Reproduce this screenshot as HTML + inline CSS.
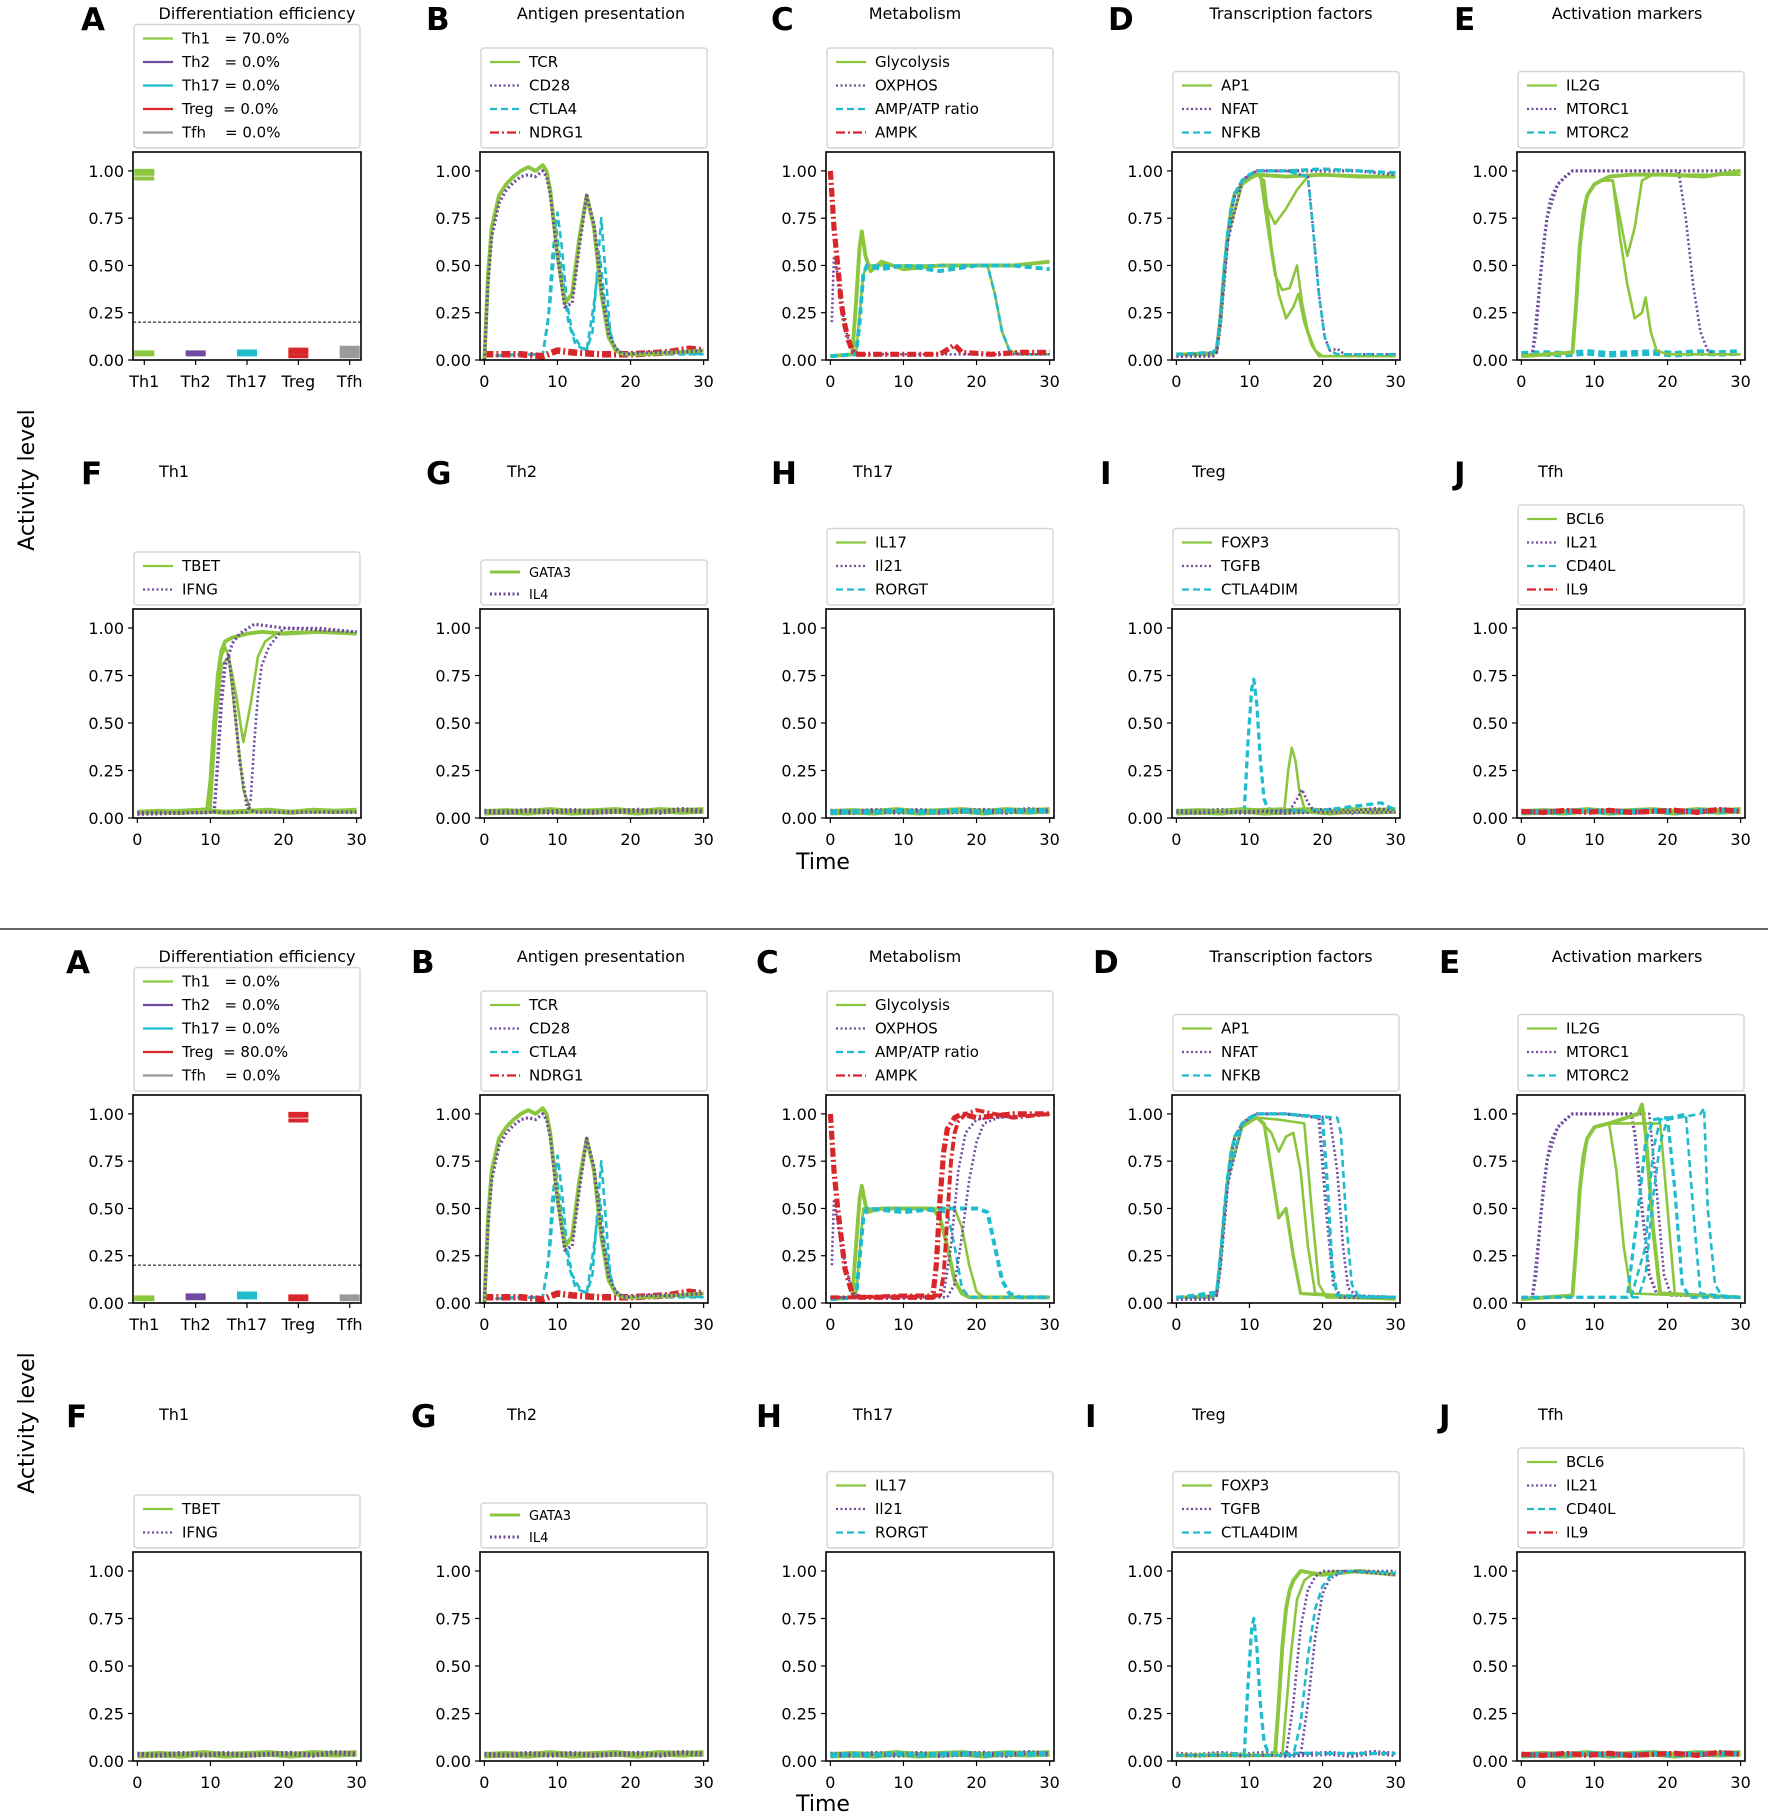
<!DOCTYPE html>
<html><head><meta charset="utf-8">
<style>
html,body{margin:0;padding:0;background:#fff;}
svg{display:block;font-family:"DejaVu Sans","Liberation Sans",sans-serif;}
</style></head>
<body>
<svg id="fig" width="1772" height="1817" viewBox="0 0 1772 1817" xmlns="http://www.w3.org/2000/svg">
<rect x="0" y="0" width="1772" height="1817" fill="#fff"/>
<line x1="0" y1="929" x2="1768" y2="929" stroke="#333" stroke-width="1.5"/>
<text x="0" y="0" transform="translate(34,480) rotate(-90)" text-anchor="middle" font-size="22">Activity level</text>
<text x="0" y="0" transform="translate(34,1423) rotate(-90)" text-anchor="middle" font-size="22">Activity level</text>
<text x="823" y="869" text-anchor="middle" font-size="22">Time</text>
<text x="823" y="1811" text-anchor="middle" font-size="22">Time</text>
</svg>
<script>
const NS='http://www.w3.org/2000/svg';
const svg=document.getElementById('fig');
const G='#8cc63f',P='#6f4a9e',C='#1fbccd',R='#d8262a',GR='#9a9a9a';
const DASH={s:'',d:'2,2.5',a:'7,4',x:'9,3,2,3'};

/* ---------- data ---------- */
const xTicks=[0,10,20,30];
const yTicks=[0,0.25,0.5,0.75,1.0];
const yTickLabels=['0.00','0.25','0.50','0.75','1.00'];
const cellCats=['Th1','Th2','Th17','Treg','Tfh'];
const effTop=[[0.96,0.985,1.0,0.03,0.04],[0.03,0.04],[0.03,0.045],[0.02,0.04,0.055],[0.02,0.035,0.05,0.065]];
const effBottom=[[0.02,0.03],[0.025,0.04],[0.03,0.05],[0.965,0.99,1.0,0.02,0.035],[0.02,0.035]];
const effLabelsTop=['Th1   = 70.0%','Th2   = 0.0%','Th17 = 0.0%','Treg  = 0.0%','Tfh    = 0.0%'];
const effLabelsBottom=['Th1   = 0.0%','Th2   = 0.0%','Th17 = 0.0%','Treg  = 80.0%','Tfh    = 0.0%'];
const effThreshold=0.2;

const baseT=[0,3,6,9,12,15,18,21,24,27,30];
const baseV1=[0.03,0.035,0.03,0.04,0.03,0.035,0.04,0.03,0.04,0.035,0.04];
const baseV2=[0.035,0.03,0.04,0.03,0.04,0.03,0.035,0.04,0.03,0.045,0.035];

const antigen=[
 {c:C,d:'a',t:[0,4,8,8.7,9.3,10,10.6,11.3,12,13,14,14.8,15.4,16,16.6,17.2,18,19,22,26,30],v:[0.02,0.03,0.03,0.2,0.55,0.78,0.6,0.3,0.15,0.08,0.05,0.15,0.45,0.75,0.45,0.15,0.05,0.03,0.03,0.04,0.03]},
 {c:C,d:'a',t:[0,8,9,9.8,10.5,11.5,12.5,14,15,15.8,16.5,17.5,19,30],v:[0.02,0.03,0.3,0.7,0.5,0.2,0.08,0.05,0.3,0.55,0.3,0.08,0.03,0.03]},
 {c:R,d:'x',w:5,t:[0,5,8,10,12,16,20,25,28,30],v:[0.03,0.03,0.02,0.05,0.04,0.03,0.03,0.04,0.06,0.05]},
 {c:G,d:'s',w:3,t:[0,0.5,1,2,3,4,5,6,7,8,8.5,9,10,11,12,13,14,15,16,17,18,19,22,26,30],v:[0,0.45,0.7,0.87,0.93,0.97,1.0,1.02,1.0,1.03,1.0,0.9,0.55,0.3,0.35,0.65,0.87,0.7,0.35,0.12,0.05,0.03,0.03,0.04,0.05]},
 {c:P,d:'d',w:2.5,t:[0,0.5,1,2,3,4,5,6,7,8,8.5,9,10,11,12,13,14,15,16,17,18,19,22,26,30],v:[0,0.4,0.65,0.83,0.9,0.94,0.97,0.98,0.97,1.0,0.97,0.88,0.55,0.28,0.3,0.6,0.87,0.72,0.38,0.14,0.06,0.03,0.04,0.04,0.05]}
];
const metabolismTop=[
 {c:G,d:'s',w:3,t:[0,3,3.5,4,4.3,4.8,5.5,7,10,15,20,25,30],v:[0.02,0.03,0.3,0.6,0.68,0.55,0.47,0.52,0.48,0.5,0.5,0.5,0.52]},
 {c:G,d:'s',t:[0,3.5,4.5,5,10,15,21.5,22.5,23.5,24.5,26,30],v:[0.02,0.03,0.45,0.5,0.5,0.5,0.5,0.35,0.15,0.05,0.03,0.03]},
 {c:C,d:'a',w:3,t:[0,3.5,4,4.5,5,7,10,15,20,25,30],v:[0.02,0.03,0.2,0.45,0.5,0.48,0.5,0.47,0.5,0.5,0.48]},
 {c:C,d:'a',t:[0,3.5,4.5,5,10,15,21.5,22.5,23.5,24.5,26,30],v:[0.02,0.03,0.45,0.5,0.5,0.5,0.5,0.35,0.15,0.05,0.03,0.03]},
 {c:P,d:'d',t:[0.2,0.5,1,1.5,2,2.5,3,4,30],v:[0.2,0.55,0.45,0.3,0.18,0.1,0.05,0.03,0.03]},
 {c:R,d:'x',w:4,t:[0,0.5,1,1.5,2,2.5,3,3.5,4,10,15,17,18,22,26,30],v:[1.0,0.7,0.5,0.3,0.18,0.1,0.05,0.03,0.03,0.03,0.03,0.08,0.04,0.03,0.04,0.04]}
];
const metabolismBottom=[
 {c:G,d:'s',w:3,t:[0,3,3.5,4,4.3,5,7,10,14,15,16,17,18,19,22,30],v:[0.02,0.03,0.3,0.55,0.62,0.48,0.5,0.5,0.5,0.45,0.3,0.12,0.05,0.03,0.03,0.03]},
 {c:G,d:'s',t:[0,3.5,4.5,5,10,17,18,19,20,21,30],v:[0.02,0.03,0.5,0.5,0.5,0.5,0.4,0.2,0.06,0.03,0.03]},
 {c:C,d:'a',w:3,t:[0,3.5,4.5,5,10,15,20,21.5,22.5,23.5,24.5,26,30],v:[0.02,0.03,0.45,0.5,0.48,0.5,0.5,0.48,0.3,0.12,0.05,0.03,0.03]},
 {c:C,d:'a',t:[0,3.5,4.5,5,10,16,17,18,19,30],v:[0.02,0.03,0.45,0.5,0.5,0.48,0.3,0.08,0.03,0.03]},
 {c:P,d:'d',t:[0.2,0.5,1.5,3,4,14,15.5,16.5,17.5,18.5,20,22,30],v:[0.2,0.55,0.3,0.05,0.03,0.03,0.05,0.3,0.7,0.9,0.97,0.98,1.0]},
 {c:P,d:'d',t:[0,4,16,17,18,19,20,21,23,30],v:[0.03,0.03,0.03,0.1,0.35,0.65,0.85,0.95,0.98,1.0]},
 {c:R,d:'x',w:4,t:[0,0.5,1,2,3,4,10,14,14.5,15,15.5,16,17,18,20,25,30],v:[1.0,0.7,0.5,0.18,0.05,0.03,0.03,0.03,0.2,0.55,0.8,0.92,0.98,1.0,0.98,1.0,1.0]},
 {c:R,d:'x',w:3,t:[0,4,10,15,15.5,16,16.5,17,17.5,18.5,20,25,30],v:[0.03,0.03,0.04,0.04,0.15,0.45,0.75,0.9,0.96,1.0,1.02,0.98,1.0]}
];
const transTop=[
 {c:G,d:'s',w:3,t:[0,5,5.5,6,6.5,7,7.5,8,9,10,11,15,20,25,30],v:[0.03,0.03,0.05,0.2,0.45,0.65,0.8,0.88,0.93,0.96,0.98,0.97,0.98,0.97,0.97]},
 {c:G,d:'s',t:[0,5.5,7,9,11,11.5,12.5,13.5,15,16.5,18,20,30],v:[0.03,0.04,0.65,0.93,0.98,0.97,0.8,0.72,0.8,0.9,0.97,0.98,0.97]},
 {c:G,d:'s',t:[0,5.5,7,9,11,11.5,12.5,13.5,14.5,15.5,16.5,17.2,18,19,20,30],v:[0.03,0.04,0.65,0.93,0.98,0.97,0.7,0.45,0.37,0.38,0.5,0.3,0.15,0.05,0.02,0.02]},
 {c:G,d:'s',t:[0,5.5,7,9,11,12,13,14,15,16,16.7,17.5,18.5,19.5,30],v:[0.03,0.04,0.65,0.93,0.98,0.95,0.6,0.35,0.22,0.28,0.35,0.2,0.08,0.02,0.02]},
 {c:P,d:'d',w:2.5,t:[0,5,5.5,6,6.5,7,7.5,8,9,10,11,15,20,25,30],v:[0.02,0.02,0.04,0.18,0.4,0.62,0.78,0.87,0.95,0.98,1.0,1.0,1.0,1.0,0.98]},
 {c:P,d:'d',t:[0,5.5,7,9,11,15,18,18.7,19.5,20.3,21,22,23,30],v:[0.02,0.04,0.62,0.95,1.0,1.0,0.97,0.7,0.35,0.12,0.05,0.06,0.03,0.03]},
 {c:C,d:'a',w:2.5,t:[0,5,5.5,6,6.5,7,7.5,8,9,10,11,15,20,25,30],v:[0.03,0.04,0.06,0.22,0.47,0.66,0.8,0.88,0.95,0.98,1.0,1.0,1.01,1.0,0.99]},
 {c:C,d:'a',t:[0,5,5.5,6,6.5,7,7.5,8,9,10,11,15,18,18.7,19.5,20.3,21,22,30],v:[0.03,0.04,0.06,0.22,0.47,0.66,0.8,0.88,0.95,0.98,1.0,1.0,0.97,0.7,0.35,0.12,0.05,0.03,0.03]}
];
const transBottom=[
 {c:G,d:'s',w:2.5,t:[0,5,5.5,6,6.5,7,7.5,8,9,10,11,12,13,14,15,16,17,30],v:[0.03,0.03,0.05,0.2,0.45,0.65,0.8,0.88,0.93,0.96,0.98,0.95,0.7,0.45,0.5,0.25,0.05,0.02]},
 {c:G,d:'s',t:[0,5.5,7,9,11,13,14,15,16,17,18,19,30],v:[0.03,0.04,0.65,0.93,0.98,0.9,0.8,0.88,0.9,0.7,0.3,0.05,0.02]},
 {c:G,d:'s',t:[0,5.5,7,9,11,14,17.5,18.5,19.5,20.5,30],v:[0.03,0.04,0.65,0.93,0.98,0.97,0.95,0.5,0.1,0.03,0.02]},
 {c:P,d:'d',w:2.5,t:[0,5,5.5,6,6.5,7,7.5,8,9,10,11,15,19.5,20.5,21.5,22.5,30],v:[0.02,0.02,0.04,0.18,0.4,0.62,0.78,0.87,0.95,0.98,1.0,1.0,0.98,0.5,0.1,0.03,0.03]},
 {c:P,d:'d',t:[0,5.5,7,9,11,15,21,22,22.8,23.5,24.5,30],v:[0.02,0.04,0.62,0.95,1.0,1.0,0.98,0.7,0.3,0.08,0.04,0.03]},
 {c:C,d:'a',w:2.5,t:[0,5,5.5,6,6.5,7,7.5,8,9,10,11,15,20,20.7,21.3,22,30],v:[0.03,0.04,0.06,0.22,0.47,0.66,0.8,0.88,0.95,0.98,1.0,1.0,0.98,0.6,0.2,0.04,0.03]},
 {c:C,d:'a',t:[0,5.5,7,9,11,15,22,22.5,23.3,24,25,30],v:[0.03,0.06,0.66,0.95,1.0,1.0,0.98,0.9,0.4,0.1,0.03,0.03]}
];
const activTop=[
 {c:C,d:'a',w:5,t:baseT,v:baseV1},
 {c:P,d:'d',w:2.5,t:[0,1.5,2,2.5,3,3.5,4,5,6,7,10,15,20,25,30],v:[0.02,0.03,0.15,0.4,0.6,0.75,0.85,0.93,0.97,1.0,1.0,1.0,1.0,1.0,1.0]},
 {c:P,d:'d',t:[0,1.5,2.5,3.5,5,7,15,21.5,22.5,23.5,24.5,25.5,26.5,30],v:[0.02,0.03,0.4,0.75,0.93,1.0,1.0,1.0,0.75,0.4,0.15,0.05,0.03,0.03]},
 {c:G,d:'s',w:3,t:[0,7,7.5,8,8.5,9,10,11,12,15,20,25,30],v:[0.02,0.04,0.3,0.6,0.78,0.87,0.93,0.95,0.97,0.98,0.98,0.97,1.0]},
 {c:G,d:'s',t:[0,7,8,9,10,11,12.5,13.5,14.5,15.5,16.5,18,30],v:[0.02,0.04,0.6,0.87,0.93,0.95,0.95,0.75,0.55,0.7,0.95,0.98,0.98]},
 {c:G,d:'s',t:[0,7,8,9,10,11,12.5,13.5,14.5,15.5,16.5,17,17.7,18.5,20,30],v:[0.02,0.04,0.6,0.87,0.93,0.95,0.95,0.65,0.4,0.22,0.25,0.33,0.15,0.05,0.03,0.03]}
];
const activBottom=[
 {c:P,d:'d',w:2.5,t:[0,1.5,2,2.5,3,3.5,4,5,6,7,10,15,15.5,16.5,17.5,18.5,30],v:[0.02,0.03,0.15,0.4,0.6,0.75,0.85,0.93,0.97,1.0,1.0,1.0,0.9,0.5,0.15,0.05,0.03]},
 {c:P,d:'d',t:[0,1.5,2.5,3.5,5,7,15,17.5,18.5,19.5,20.5,30],v:[0.02,0.03,0.4,0.75,0.93,1.0,1.0,1.0,0.6,0.15,0.04,0.03]},
 {c:G,d:'s',w:3,t:[0,7,7.5,8,8.5,9,10,12,16,16.5,17,18,19,30],v:[0.02,0.04,0.3,0.6,0.78,0.87,0.93,0.95,1.0,1.05,0.9,0.4,0.05,0.03]},
 {c:G,d:'s',t:[0,7,8,9,10,12,13,14,15,30],v:[0.02,0.04,0.6,0.87,0.93,0.95,0.7,0.3,0.05,0.03]},
 {c:G,d:'s',t:[0,7,8,9,10,12,19,20,21,30],v:[0.02,0.04,0.6,0.87,0.93,0.95,0.95,0.5,0.05,0.03]},
 {c:C,d:'a',w:2.5,t:[0,14.5,16,17,18,20,21,22,23,30],v:[0.03,0.03,0.5,0.85,0.97,0.98,0.6,0.1,0.03,0.03]},
 {c:C,d:'a',t:[0,15,17,18,19,22.5,23.5,24.5,30],v:[0.03,0.03,0.3,0.8,0.97,1.0,0.5,0.05,0.03]},
 {c:C,d:'a',t:[0,16,17,18,19,20,24.5,25,25.5,26.5,27.5,30],v:[0.03,0.03,0.15,0.55,0.85,0.97,1.0,1.03,0.5,0.1,0.03,0.03]}
];
const th1Top=[
 {c:G,d:'s',w:4,t:baseT,v:baseV1},
 {c:G,d:'s',w:3,t:[0,9.5,10,10.5,11,11.5,12,13,15,17,20,25,30],v:[0.03,0.03,0.2,0.5,0.75,0.88,0.93,0.95,0.97,0.98,0.97,0.98,0.97]},
 {c:G,d:'s',t:[0,9.5,10.5,11.5,12.5,13.5,14.5,15.5,16.5,17.5,19,21,30],v:[0.03,0.03,0.4,0.8,0.85,0.65,0.4,0.6,0.85,0.93,0.97,0.98,0.97]},
 {c:G,d:'s',t:[0,10,10.5,11,11.5,12,12.5,13.5,14.5,15.5,17,30],v:[0.03,0.05,0.35,0.7,0.85,0.9,0.85,0.5,0.15,0.04,0.03,0.03]},
 {c:P,d:'d',w:2.5,t:[0,10.5,11,11.5,12,12.5,13,14,15,16,30],v:[0.02,0.03,0.3,0.65,0.82,0.85,0.7,0.3,0.06,0.03,0.03]},
 {c:P,d:'d',t:[0,15,15.5,16,16.5,17,18,19,20,25,30],v:[0.03,0.03,0.1,0.4,0.65,0.8,0.9,0.95,1.0,1.0,0.98]},
 {c:P,d:'d',w:2.5,t:[0,10.5,11,11.5,12,13,14,16,20,30],v:[0.02,0.03,0.3,0.6,0.8,0.92,0.97,1.02,1.0,0.98]}
];
const flat2=[{c:G,d:'s',w:5,t:baseT,v:baseV1},{c:P,d:'d',w:4,t:baseT,v:baseV2}];
const flat3=[{c:G,d:'s',w:5,t:baseT,v:baseV1},{c:P,d:'d',w:4,t:baseT,v:baseV2},{c:C,d:'a',w:4,t:baseT,v:baseV1}];
const flat4=[{c:G,d:'s',w:5,t:baseT,v:baseV1},{c:P,d:'d',w:4,t:baseT,v:baseV2},{c:C,d:'a',w:4,t:baseT,v:baseV1},{c:R,d:'x',w:4,t:baseT,v:baseV2}];
const tregTop=[
 {c:G,d:'s',w:5,t:baseT,v:baseV1},{c:P,d:'d',w:4,t:baseT,v:baseV2},
 {c:C,d:'a',w:2.5,t:[0,9.3,9.8,10.3,10.6,11,11.5,12,12.5,13.5,20,28,30],v:[0.03,0.04,0.4,0.68,0.73,0.6,0.3,0.1,0.05,0.04,0.04,0.08,0.04]},
 {c:G,d:'s',t:[0,14.8,15.3,15.8,16.3,16.8,17.5,18.5,30],v:[0.03,0.05,0.25,0.37,0.3,0.15,0.05,0.03,0.03]},
 {c:P,d:'d',t:[0,15.5,16.5,17.2,18,19,30],v:[0.03,0.04,0.1,0.15,0.08,0.03,0.03]}
];
const tregBottom=[
 {c:P,d:'d',w:4,t:baseT,v:baseV2},
 {c:C,d:'a',w:2.5,t:[0,9.3,9.8,10.3,10.6,11,11.5,12,12.5,13.5,30],v:[0.03,0.04,0.4,0.7,0.75,0.6,0.3,0.1,0.05,0.04,0.04]},
 {c:G,d:'s',w:3,t:[0,13.5,14,14.5,15,15.5,16,17,20,25,30],v:[0.03,0.03,0.3,0.6,0.8,0.9,0.95,1.0,0.98,1.0,0.98]},
 {c:G,d:'s',t:[0,14.5,15.5,16.5,17.5,18.5,22,30],v:[0.03,0.03,0.5,0.85,0.95,0.98,1.0,0.98]},
 {c:P,d:'d',t:[0,15,16,17,18,19,20,30],v:[0.03,0.03,0.3,0.7,0.9,0.97,1.0,1.0]},
 {c:P,d:'d',t:[0,17,18,19,20,21,23,30],v:[0.03,0.03,0.3,0.65,0.88,0.96,1.0,0.98]},
 {c:C,d:'a',t:[0,16,17,18,19,20,21,23,30],v:[0.03,0.03,0.2,0.55,0.8,0.92,0.97,1.0,0.99]}
];

/* ---------- layout ---------- */
const colLeft=[133,480,826,1172,1517];
const axW=228;
const xMin=-0.6,xMax=30.6,yMax=1.1;

function el(tag,parent){const e=document.createElementNS(NS,tag);parent.appendChild(e);return e;}
function txt(parent,x,y,s,size,anchor,weight){
  const t=el('text',parent);
  t.setAttribute('x',x);t.setAttribute('y',y);t.setAttribute('font-size',size);
  t.setAttribute('text-anchor',anchor||'start');
  if(weight)t.setAttribute('font-weight',weight);
  t.textContent=s;return t;
}

function makeAxes(col,top,bottom,key,catAxis){
  const left=colLeft[col],right=left+axW;
  const g=el('g',svg);
  
  
  const xs=catAxis?(v=>left+(v+0.22)/4.44*axW):(t=>left+(t-xMin)/(xMax-xMin)*axW);
  const ys=v=>bottom-v/yMax*(bottom-top);
  const plot=el('g',g);
  
  
  yTicks.forEach((v,i)=>{
    const tk=el('line',g);
    tk.setAttribute('x1',left-5);tk.setAttribute('x2',left);tk.setAttribute('y1',ys(v));tk.setAttribute('y2',ys(v));tk.setAttribute('stroke','#000');tk.setAttribute('stroke-width','1.2');
    
    
    const lb=txt(g,left-9,ys(v)+6,yTickLabels[i],16,'end');
    
    
  });
  const xt=catAxis?cellCats.map((c,i)=>i):xTicks;
  xt.forEach((v,i)=>{
    const tk=el('line',g);
    tk.setAttribute('x1',xs(v));tk.setAttribute('x2',xs(v));tk.setAttribute('y1',bottom);tk.setAttribute('y2',bottom+5);tk.setAttribute('stroke','#000');tk.setAttribute('stroke-width','1.2');
    
    
    const lb=txt(g,xs(v),bottom+27,catAxis?cellCats[i]:String(v),16,'middle');
    
    
  });
  return {g,plot,xs,ys,left,right,top,bottom};
}
function frame(ax,key){
  const r=el('rect',ax.g);
  r.setAttribute('x',ax.left);r.setAttribute('y',ax.top);r.setAttribute('width',axW);r.setAttribute('height',ax.bottom-ax.top);
  r.setAttribute('fill','none');r.setAttribute('stroke','#000');r.setAttribute('stroke-width','1.6');
  
  
}
function drawSeries(ax,series,key){
  const clip=el('clipPath',ax.g);clip.setAttribute('id','clip-'+key);
  const cr=el('rect',clip);cr.setAttribute('x',ax.left);cr.setAttribute('y',ax.top);cr.setAttribute('width',axW);cr.setAttribute('height',ax.bottom-ax.top);
  series.forEach((s,i)=>{
    const p=el('polyline',ax.plot);
    p.setAttribute('points',s.t.map((t,j)=>ax.xs(t).toFixed(1)+','+ax.ys(s.v[j]).toFixed(1)).join(' '));
    p.setAttribute('fill','none');p.setAttribute('stroke',s.c);p.setAttribute('stroke-width',(s.w||2)*1.3);
    p.setAttribute('stroke-linejoin','round');
    if(DASH[s.d])p.setAttribute('stroke-dasharray',DASH[s.d]);
    p.setAttribute('clip-path','url(#clip-'+key+')');
    
    
  });
}
function legend(ax,entries,key,small){
  const fs=small?13:15, step=small?22:23.5, n=entries.length;
  const h=n*step+(small?1:6);
  const top=ax.top-4-h;
  const lg=el('g',ax.g);
  
  
  const b=el('rect',lg);
  b.setAttribute('x',ax.left+1);b.setAttribute('y',top);b.setAttribute('width',axW-2);b.setAttribute('height',h);b.setAttribute('rx','3');
  b.setAttribute('fill','#fff');b.setAttribute('stroke','#d6d6d6');b.setAttribute('stroke-width','1.5');
  
  
  entries.forEach((e,i)=>{
    const cy=top+(small?12:14)+step*i;
    const ln=el('line',lg);
    ln.setAttribute('x1',ax.left+10);ln.setAttribute('x2',ax.left+40);ln.setAttribute('y1',cy);ln.setAttribute('y2',cy);
    ln.setAttribute('stroke',e[1]);ln.setAttribute('stroke-width',small?3:2.2);
    if(DASH[e[2]])ln.setAttribute('stroke-dasharray',DASH[e[2]]);
    
    
    const t=txt(lg,ax.left+49,cy+5,e[0],fs,'start');
    t.setAttribute('xml:space','preserve');t.style.whiteSpace='pre';
    
    
  });
}
function heading(x,y,s,size,weight,name,anchor){
  const t=txt(svg,x,y,s,size,anchor||'start',weight);
  
  
}

function effPanel(top,bottom,vals,labels,key){
  const ax=makeAxes(0,top,bottom,key,true);
  const th=el('line',ax.plot);
  th.setAttribute('x1',ax.left);th.setAttribute('x2',ax.right);th.setAttribute('y1',ax.ys(effThreshold));th.setAttribute('y2',ax.ys(effThreshold));
  th.setAttribute('stroke','#000');th.setAttribute('stroke-width','1');th.setAttribute('stroke-dasharray','3,2');
  
  
  const cols=[G,P,C,R,GR];
  vals.forEach((arr,i)=>{
    arr.forEach(v=>{
      const m=el('line',ax.plot);
      m.setAttribute('x1',ax.xs(i)-10);m.setAttribute('x2',ax.xs(i)+10);m.setAttribute('y1',ax.ys(v));m.setAttribute('y2',ax.ys(v));
      m.setAttribute('stroke',cols[i]);m.setAttribute('stroke-width','4');
      
      
    });
  });
  frame(ax,key);
  legend(ax,labels.map((l,i)=>[l,cols[i],'s']),key);
}

function half(off,bottomHalf){
  const r1t=152+off,r1b=360+off,r2t=609+off,r2b=818+off;
  const sh=bottomHalf?-15:0;
  const h=bottomHalf?'b':'t';
  const L1=[['A',81],['B',426],['C',771],['D',1108],['E',1454]];
  const L2=[['F',81],['G',426],['H',771],['I',1100],['J',1454]];
  L1.forEach(l=>heading(l[1]+sh,30+off,l[0],31,'bold','panel-letter-'+l[0].toLowerCase()+'-'+h));
  L2.forEach(l=>heading(l[1]+sh,484+off,l[0],31,'bold','panel-letter-'+l[0].toLowerCase()+'-'+h));
  const T1=[['Differentiation efficiency',257],['Antigen presentation',601],['Metabolism',915],['Transcription factors',1291],['Activation markers',1627]];
  T1.forEach((t,i)=>heading(t[1],19+off,t[0],16,null,'panel-title-'+L1[i][0].toLowerCase()+'-'+h,'middle'));
  const T2=[['Th1',159],['Th2',507],['Th17',853],['Treg',1192],['Tfh',1538]];
  T2.forEach((t,i)=>heading(t[1],477+off,t[0],16,null,'panel-title-'+L2[i][0].toLowerCase()+'-'+h));

  effPanel(r1t,r1b,bottomHalf?effBottom:effTop,bottomHalf?effLabelsBottom:effLabelsTop,'efficiency-'+h);
  const panels=[
   [1,r1t,r1b,antigen,[['TCR',G,'s'],['CD28',P,'d'],['CTLA4',C,'a'],['NDRG1',R,'x']],'antigen'],
   [2,r1t,r1b,bottomHalf?metabolismBottom:metabolismTop,[['Glycolysis',G,'s'],['OXPHOS',P,'d'],['AMP/ATP ratio',C,'a'],['AMPK',R,'x']],'metabolism'],
   [3,r1t,r1b,bottomHalf?transBottom:transTop,[['AP1',G,'s'],['NFAT',P,'d'],['NFKB',C,'a']],'transcription'],
   [4,r1t,r1b,bottomHalf?activBottom:activTop,[['IL2G',G,'s'],['MTORC1',P,'d'],['MTORC2',C,'a']],'activation'],
   [0,r2t,r2b,bottomHalf?flat2:th1Top,[['TBET',G,'s'],['IFNG',P,'d']],'th1'],
   [1,r2t,r2b,flat2,[['GATA3',G,'s'],['IL4',P,'d']],'th2',true],
   [2,r2t,r2b,flat3,[['IL17',G,'s'],['Il21',P,'d'],['RORGT',C,'a']],'th17'],
   [3,r2t,r2b,bottomHalf?tregBottom:tregTop,[['FOXP3',G,'s'],['TGFB',P,'d'],['CTLA4DIM',C,'a']],'treg'],
   [4,r2t,r2b,flat4,[['BCL6',G,'s'],['IL21',P,'d'],['CD40L',C,'a'],['IL9',R,'x']],'tfh']
  ];
  panels.forEach(p=>{
    const key=p[5]+'-'+h;
    const ax=makeAxes(p[0],p[1],p[2],key,false);
    drawSeries(ax,p[3],key);
    frame(ax,key);
    legend(ax,p[4],key,p[6]);
  });
}
half(0,false);
half(943,true);
</script>
</body></html>
